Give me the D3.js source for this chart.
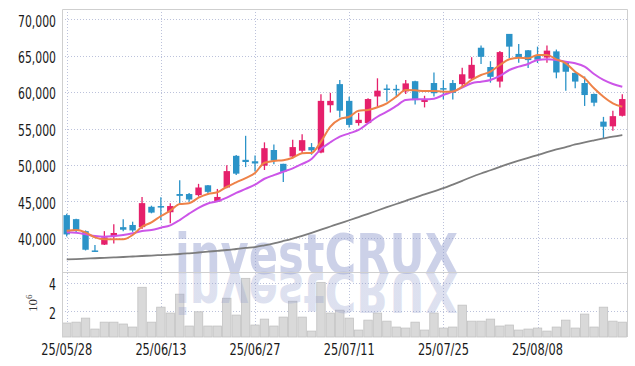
<!DOCTYPE html>
<html lang="en">
<head>
<meta charset="utf-8">
<title>candle chart</title>
<script src="https://cdn.jsdelivr.net/npm/d3@7"></script>
<style>
  body { margin: 0; background: #fff; }
  svg { display: block; }
</style>
</head>
<body>
<svg id="chart" width="635" height="366"></svg>
<script>
// trading days, 25/05/28 .. 25/08/22
var dates = ['25/05/28','25/05/29','25/05/30','25/06/02','25/06/04','25/06/05','25/06/09','25/06/10','25/06/11','25/06/12',
             '25/06/13','25/06/16','25/06/17','25/06/18','25/06/19','25/06/20','25/06/23','25/06/24','25/06/25','25/06/26',
             '25/06/27','25/06/30','25/07/01','25/07/02','25/07/03','25/07/04','25/07/07','25/07/08','25/07/09','25/07/10',
             '25/07/11','25/07/14','25/07/15','25/07/16','25/07/17','25/07/18','25/07/21','25/07/22','25/07/23','25/07/24',
             '25/07/25','25/07/28','25/07/29','25/07/30','25/07/31','25/08/01','25/08/04','25/08/05','25/08/06','25/08/07',
             '25/08/08','25/08/11','25/08/12','25/08/13','25/08/14','25/08/18','25/08/19','25/08/20','25/08/21','25/08/22'];

var opens  = [43100,42550,40900,38250,39050,40200,41450,41750,41450,44250, 44350,43500,46000,46000,45850,47200,44950,46900,51250,50700,
              50500,49900,52050,50150,51150,51950,52450,51700,58200,61100, 58800,55750,55750,59400,60500,60450,60100,61500,58650,61250,
              60550,61250,61100,61850,66100,63450,61450,68000,65250,65750, 65000,64750,65600,64050,62650,61250,59750,55950,55300,56750];
var highs  = [43300,42600,41000,39000,40900,41850,42550,42200,45600,44400, 45550,44750,47900,46150,47400,47250,46700,49950,51350,54000,
              51300,53100,52800,50150,53450,54200,53000,59700,59900,61650, 59350,57150,59150,61900,61050,61000,61650,61550,59500,62700,
              61650,61650,63350,64800,66400,64250,65650,68000,66600,65800, 66250,66400,65850,64100,62700,62150,59800,56600,57450,59700];
var lows   = [40150,40750,38250,38050,39000,39200,40900,40800,41200,43350, 42400,42000,44550,44950,45650,46050,44900,46800,48600,49700,
              49100,49300,50100,47650,50900,51600,51400,51600,57200,56500, 55150,55400,55700,58000,58700,59300,59750,58300,57900,59400,
              59000,59000,60850,61700,63850,61300,60650,64700,64050,63300, 64000,64050,61900,60200,60550,58100,58050,53600,54700,56650];
var closes = [40450,41050,38350,38150,40050,40650,41100,41000,44750,43450, 44300,44350,45750,45250,46900,46300,45600,49150,48800,50400,
              50200,52300,50600,49050,52450,53400,52000,58800,58800,57450, 55500,56200,59050,60200,60350,60250,61200,58900,58950,59850,
              60450,59900,62450,63750,64850,62100,65500,66250,64800,64400, 64450,65700,62700,62800,61450,59600,58550,55250,56700,59050];

// volume, millions of shares
var volumes = [1.20,1.26,1.54,0.78,1.26,1.26,1.13,0.92,3.68,1.26, 2.30,1.89,3.20,0.99,1.98,0.99,0.99,2.92,1.75,4.30,
               1.06,1.47,0.99,1.61,2.71,1.61,0.64,4.02,1.89,2.09, 1.54,0.71,1.40,1.89,1.33,0.92,0.85,1.26,0.71,1.89,
               0.85,0.92,2.44,1.33,1.33,1.47,0.99,1.06,0.71,0.78, 0.85,0.64,0.92,1.40,0.85,1.82,0.92,2.30,1.33,1.26];

// moving averages
var ma5   = [40950,41060,40740,40050,39780,39780,39780,40370,41510,42110, 42980,43710,44630,44730,45500,46000,46240,47000,47600,48200,
             48900,50300,50550,50650,50990,51600,51650,53190,55250,56300, 56620,57450,57550,57920,58470,59370,60300,60250,60150,60150,
             60060,60100,60750,61670,62350,62810,63730,64510,64730,64650, 65100,65100,64510,63960,62810,61900,60530,59370,58470,58000];
var ma10  = [40750,40690,40470,40230,40140,40230,40370,40600,40920,41060, 41370,41700,42430,43300,44100,44700,45000,45500,46150,46700,
             47300,48100,48600,49070,49530,50130,50810,52190,53110,53880, 54340,54800,55720,56620,57310,58100,58920,59020,59020,59100,
             59610,60060,60610,61210,61440,61670,62220,63040,63500,63870, 64420,64510,64420,64180,63960,63500,62490,61670,61120,60750];
var maLong = [37030,37070,37130,37180,37240,37290,37350,37420,37490,37550, 37620,37690,37760,37860,37970,38080,38200,38310,38450,38590,
              38720,38960,39230,39550,39890,40260,40670,41100,41540,41980, 42400,42840,43280,43740,44190,44630,45070,45520,45940,46380,
              46800,47300,47820,48340,48820,49270,49730,50180,50590,50980, 51360,51750,52120,52460,52810,53110,53380,53640,53890,54110];

var priceTicks = [40000,45000,50000,55000,60000,65000,70000];
var volTicks = [2,4];
var dateTicks = [0,10,20,30,40,50];

(function () {
    var plotL = 62, plotR = 627, plotT = 9, priceB = 272, volB = 337;
    var upColor = '#e5206b', downColor = '#2b93c8';
    var gridColor = '#bcc2db';
    var tickFont = '"DejaVu Sans Condensed", "DejaVu Sans", sans-serif';
    var markFont = '"DejaVu Sans", sans-serif';

    var svg = d3.select('#chart');

    var x = d3.scaleBand().domain(d3.range(dates.length)).range([plotL, plotR]);
    var cx = function (i) { return x(i) + x.bandwidth() / 2; };
    var y = d3.scaleLinear().domain([35290, 71420]).range([priceB, plotT]);
    var yv = d3.scaleLinear().domain([0.23, 4.74]).range([volB, priceB]);

    // grid
    var grid = svg.append('g')
        .attr('stroke', gridColor)
        .attr('stroke-dasharray', '1,2')
        .attr('stroke-width', 1);

    grid.selectAll('.hp').data(priceTicks).enter().append('line')
        .attr('x1', plotL).attr('x2', plotR)
        .attr('y1', d => Math.round(y(d)) + 0.5).attr('y2', d => Math.round(y(d)) + 0.5);
    grid.selectAll('.hv').data(volTicks).enter().append('line')
        .attr('x1', plotL).attr('x2', plotR)
        .attr('y1', d => Math.round(yv(d)) + 0.5).attr('y2', d => Math.round(yv(d)) + 0.5);
    grid.selectAll('.vx').data(dateTicks).enter().append('line')
        .attr('y1', plotT).attr('y2', volB)
        .attr('x1', d => Math.round(cx(d)) + 0.5).attr('x2', d => Math.round(cx(d)) + 0.5);

    // volume bars
    svg.append('g').selectAll('rect').data(volumes).enter().append('rect')
        .attr('x', (d, i) => x(i) + 0.5)
        .attr('width', x.bandwidth() - 1)
        .attr('y', d => yv(d))
        .attr('height', d => volB - yv(d))
        .attr('fill', '#d9d9d9')
        .attr('stroke', '#c2c2c2')
        .attr('stroke-width', 0.8);

    // watermark + reflection
    var defs = svg.append('defs');
    var grad = defs.append('linearGradient')
        .attr('id', 'fade').attr('gradientUnits', 'userSpaceOnUse')
        .attr('x1', 0).attr('x2', 0).attr('y1', 273).attr('y2', 318);
    grad.append('stop').attr('offset', 0).attr('stop-color', '#8f9acb').attr('stop-opacity', 0.3);
    grad.append('stop').attr('offset', 1).attr('stop-color', '#8f9acb').attr('stop-opacity', 0.04);

    svg.append('text')
        .attr('x', 175).attr('y', 273)
        .attr('font-family', markFont)
        .attr('font-weight', 'bold')
        .attr('font-size', 55)
        .attr('textLength', 283).attr('lengthAdjust', 'spacingAndGlyphs')
        .attr('fill', '#8f9acb').attr('fill-opacity', 0.45)
        .text('investCRUX');
    svg.append('text')
        .attr('x', 175).attr('y', 273)
        .attr('transform', 'translate(0,546) scale(1,-1)')
        .attr('font-family', markFont)
        .attr('font-weight', 'bold')
        .attr('font-size', 55)
        .attr('textLength', 283).attr('lengthAdjust', 'spacingAndGlyphs')
        .attr('fill', 'url(#fade)')
        .text('investCRUX');

    // candles
    var candles = svg.append('g').selectAll('g').data(d3.range(dates.length)).enter().append('g')
        .attr('fill', i => closes[i] >= opens[i] ? upColor : downColor)
        .attr('stroke', i => closes[i] >= opens[i] ? upColor : downColor);
    candles.append('line')
        .attr('x1', i => cx(i)).attr('x2', i => cx(i))
        .attr('y1', i => y(highs[i])).attr('y2', i => y(lows[i]))
        .attr('stroke-width', 1.3);
    candles.append('rect')
        .attr('x', i => cx(i) - 3.2)
        .attr('width', 6.4)
        .attr('y', i => y(Math.max(opens[i], closes[i])))
        .attr('height', i => Math.max(1.5, Math.abs(y(opens[i]) - y(closes[i]))))
        .attr('stroke', 'none');

    // moving average lines
    var line = function (vals) {
        return d3.line().x((d, i) => cx(i)).y(d => y(d)).curve(d3.curveMonotoneX)(vals);
    };
    svg.append('path').attr('d', line(maLong)).attr('fill', 'none').attr('stroke', '#7d7d7d').attr('stroke-width', 1.8);
    svg.append('path').attr('d', line(ma10)).attr('fill', 'none').attr('stroke', '#cc55e8').attr('stroke-width', 2);
    svg.append('path').attr('d', line(ma5)).attr('fill', 'none').attr('stroke', '#ee8248').attr('stroke-width', 2);

    // frame
    var frame = svg.append('g').attr('stroke', '#cfcfcf').attr('stroke-width', 1).attr('fill', 'none');
    frame.append('path').attr('d', 'M' + (plotL + 0.5) + ',' + volB + 'V' + (plotT + 0.5) + 'H' + (plotR + 0.5) + 'V' + volB);
    frame.append('line').attr('x1', plotL).attr('x2', plotR + 0.5).attr('y1', priceB + 0.5).attr('y2', priceB + 0.5);

    // axes
    var yAxis = svg.append('g')
        .attr('transform', 'translate(' + plotL + ',0)')
        .call(d3.axisLeft(y).tickValues(priceTicks).tickFormat(d3.format(',')).tickSize(0).tickPadding(6));
    var vAxis = svg.append('g')
        .attr('transform', 'translate(' + plotL + ',0)')
        .call(d3.axisLeft(yv).tickValues(volTicks).tickFormat(d3.format('d')).tickSize(0).tickPadding(6));
    var xAxis = svg.append('g')
        .attr('transform', 'translate(0,' + volB + ')')
        .call(d3.axisBottom(x).tickValues(dateTicks).tickFormat(i => dates[i]).tickSize(0).tickPadding(7));

    [yAxis, vAxis, xAxis].forEach(function (a) {
        a.select('.domain').remove();
        a.selectAll('text')
            .attr('font-family', tickFont)
            .attr('fill', '#1a1a1a');
    });
    yAxis.selectAll('text').attr('font-size', 15).attr('dy', '0.45em')
        .attr('textLength', 38).attr('lengthAdjust', 'spacingAndGlyphs');
    vAxis.selectAll('text').attr('font-size', 15).attr('dy', '0.45em')
        .attr('textLength', 7).attr('lengthAdjust', 'spacingAndGlyphs');
    xAxis.selectAll('text').attr('font-size', 16)
        .attr('textLength', 51).attr('lengthAdjust', 'spacingAndGlyphs');

    // unit label of the volume pane
    var unit = svg.append('text')
        .attr('transform', 'translate(37,312) rotate(-90)')
        .attr('font-family', '"Liberation Serif", "DejaVu Serif", serif')
        .attr('font-size', 13)
        .attr('fill', '#333');
    unit.append('tspan').text('10');
    unit.append('tspan').attr('dy', -5).attr('font-size', 9).text('6');
})();
</script>
</body>
</html>
